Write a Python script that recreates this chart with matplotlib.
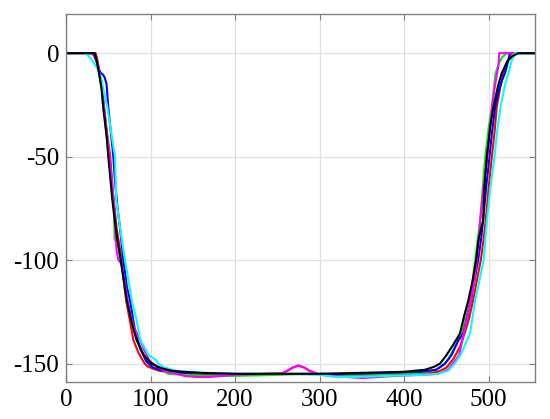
import numpy as np
import matplotlib
matplotlib.use("Agg")
import matplotlib.pyplot as plt

# curves: (x, y) pairs per colour
red_x = [0, 35, 37, 40, 43, 45, 49, 52.3, 55, 60, 65.9, 71, 75, 79.7, 86, 93, 97, 103, 110, 120, 140, 170, 200, 235, 255, 262, 268, 275, 282, 288, 297, 310, 340, 380, 420, 440, 450, 458, 466, 471.6, 477, 481.6, 486, 490.7, 494, 496.6, 500, 503.8, 507, 509.6, 514, 517.6, 522, 527, 555]
red_y = [0, 0, -3, -10, -18, -26, -40, -50, -65, -85, -100, -119.4, -128, -138.7, -145, -150, -151.5, -152.5, -153.5, -154, -155, -155.5, -155.5, -155, -154.8, -153.5, -152, -151, -152, -153.5, -155, -155.5, -156, -155.5, -155, -154, -152, -148, -142, -135.5, -128, -119.4, -110, -100, -90, -80.6, -65, -50, -38, -26, -16, -9.5, -4, 0, 0]

green_x = [0, 34, 36, 39, 42, 44, 48, 51, 55.8, 57, 57.5, 61, 65, 71, 77, 84, 92, 101, 110, 121, 140, 170, 200, 250, 280, 300, 340, 380, 420, 438, 446, 452, 460, 468, 473, 477, 481, 484, 487, 490, 493, 496, 500, 503.8, 508, 512, 516, 521, 555]
green_y = [0, 0, -3, -9.5, -17, -26, -40, -51, -71, -80, -90, -92, -100, -118, -129, -139, -146, -150, -152, -155, -155.5, -156, -156, -155.5, -155, -155, -155.5, -155, -154.5, -153, -151, -148, -142, -135.5, -127, -119.4, -110, -100, -90, -80.6, -65, -50, -36, -26, -10, -5, -2, 0, 0]

blue_x = [0, 30, 33, 36, 39, 41, 44, 46, 48, 50, 53, 56, 58, 61, 64, 67.9, 72, 75.7, 82, 88, 95, 103, 115, 140, 200, 260, 300, 340, 380, 420, 438, 448.5, 456, 464, 470, 475, 479, 484, 487.6, 491, 493.5, 497, 501, 504, 507.7, 512, 516, 519.5, 523, 525, 555]
blue_y = [0, 0, -1, -4, -8, -9.5, -10.5, -12, -15, -26, -38, -50, -62, -75, -85, -100, -113, -119.4, -135, -143, -149, -152, -153.5, -154.5, -155, -155, -155, -155, -154.5, -154, -153, -150, -146, -139, -135.5, -127, -119.4, -108, -100, -90, -80.6, -65, -50, -38, -26, -18, -13, -9.5, -4, 0, 0]

magenta_x = [0, 33, 35, 38, 41, 45, 48, 51.5, 54, 57, 59, 60, 62, 66, 70, 75, 80, 87.6, 93, 98.6, 103, 118, 131, 140, 155, 170, 185, 200, 240, 255, 262, 268, 275, 282, 288, 297, 310, 330, 350, 370, 390, 420, 440, 452, 458, 465, 470.6, 475, 479, 483, 486, 489, 490, 494, 498.6, 504, 507, 510, 511.6, 512.5, 555]
magenta_y = [0, 0, -2, -7, -12, -26, -38, -50, -60, -75, -90, -96, -100, -102, -112, -124, -132, -138.7, -144, -148.4, -150, -154, -155, -156, -156.5, -156.5, -156, -155.5, -155, -154.8, -153.5, -152, -151, -152, -153.5, -155, -156, -156.5, -157, -156.5, -156, -155.5, -155, -153, -150, -146, -135.5, -127, -119.4, -110, -100, -88, -80.6, -65, -50, -26, -17, -9.5, -6, 0, 0]

cyan_x = [0, 22, 26, 30, 34, 38, 42, 45, 48.9, 53, 56, 58, 59.5, 62.7, 66, 69.8, 74, 77.7, 83, 88, 98, 107, 109, 117, 130, 160, 200, 250, 300, 320, 340, 380, 420, 440, 452, 460, 468, 473, 478, 484, 489, 494, 498, 502, 507, 510, 514, 519, 523.5, 527, 531, 555]
cyan_y = [0, 0, -1, -3, -5.5, -8, -13, -19, -26, -37, -45, -50, -71, -80.6, -90, -100, -110, -119.4, -128, -138.7, -146, -148.4, -150, -152, -153.5, -154.5, -155, -155, -155.5, -156.5, -156.5, -156, -155.5, -155, -153.5, -150, -145, -140, -135.5, -119.4, -110, -100, -80.6, -65, -50, -38, -26, -16, -9.5, -4, 0, 0]

black_x = [0, 34, 36, 39, 42, 44, 48, 50, 54.8, 60, 64.7, 71.8, 77, 83.6, 92, 101, 108, 115, 125, 138.6, 160, 200, 250, 300, 350, 400, 425, 436, 442.6, 450, 458, 466, 471, 476, 481, 485.2, 488, 491, 493.5, 495, 497.8, 502, 505.7, 511, 515.6, 522, 528, 535, 555]
black_y = [0, 0, -3, -9.5, -17, -26, -40, -50, -71, -88, -100, -119.4, -129, -138.7, -146, -150, -151.5, -152.5, -153.5, -154, -154.5, -155, -155, -155, -154.5, -154, -153, -151.5, -150, -146, -141, -135.5, -127, -119.4, -110, -100, -90, -85, -80.6, -65, -50, -35, -26, -16, -9.5, -4, -1.5, 0, 0]

series = [
    (red_x, red_y, "#ff0000"),
    (green_x, green_y, "#00ee00"),
    (blue_x, blue_y, "#0000ff"),
    (magenta_x, magenta_y, "#ff00ff"),
    (cyan_x, cyan_y, "#00ffff"),
    (black_x, black_y, "#000000"),
]

xticks = [0, 100, 200, 300, 400, 500]
yticks = [-150, -100, -50, 0]

plt.rcParams["font.family"] = ["Liberation Serif", "DejaVu Serif"]
plt.rcParams["axes.unicode_minus"] = False

fig = plt.figure(figsize=(5.5, 4.19), dpi=100)
ax = fig.add_axes([0.12, 0.088, 0.853, 0.879])

for xs, ys, col in series:
    ax.plot(xs, ys, color=col, lw=1.5)

ax.set_xlim(0, 555)
ax.set_ylim(-159, 19)
ax.set_xticks(xticks)
ax.set_yticks(yticks)
ax.grid(True, color="#e0e0e0", lw=0.9)
ax.set_axisbelow(True)

for s in ax.spines.values():
    s.set_color("#808080")
    s.set_linewidth(1.0)
ax.tick_params(direction="in", length=4, color="#808080", top=True, right=True,
               labelsize=18, pad=5)

fig.savefig("out.png", dpi=100)
